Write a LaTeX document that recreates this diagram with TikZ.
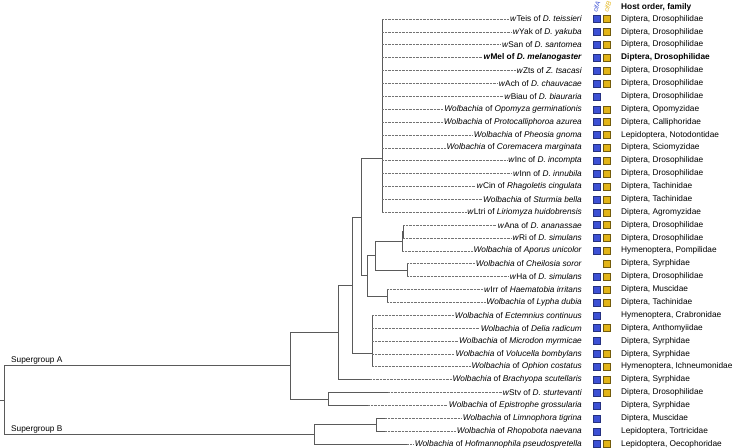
\documentclass[tikz,border=0pt]{standalone}
\usepackage{fontspec}
\setmainfont{Liberation Sans}
\usepackage{tikz}
\definecolor{cifblue}{RGB}{60,80,212}
\definecolor{cifgold}{RGB}{226,180,24}
\definecolor{branch}{RGB}{90,90,90}
\newcommand{\wb}{\textit{w}}
\newcommand{\Wol}{\textit{Wolbachia}}

\begin{document}
\begin{tikzpicture}[x=1pt,y=-12.88pt,
    every node/.style={font=\fontsize{8.3}{10}\selectfont},
    br/.style={draw=branch,line width=0.8pt},
    dot/.style={draw=branch!85,line width=0.6pt,dash pattern=on 0.6pt off 0.8pt},
    leaf/.style={anchor=east,inner sep=1pt},
    host/.style={anchor=west,inner sep=0.5pt},
    cif/.style={rotate=72,font=\itshape\fontsize{6.6}{7}\selectfont,inner sep=0pt},
    sqa/.style={fill=cifblue,draw=cifblue!60!black,line width=0.3pt,minimum size=7pt,inner sep=0pt},
    sqb/.style={fill=cifgold,draw=cifgold!50!black,line width=0.3pt,minimum size=7pt,inner sep=0pt}]
    \useasboundingbox (0,-0.475) rectangle (734,34.307);

    % header
    \node[cif,text=cifblue] (cifa) at (596.5,0.06) {cifA};
    \node[cif,text=cifgold] (cifb) at (607.5,0.06) {cifB};
    \node[host,font=\bfseries\fontsize{8.3}{10}\selectfont] (hd) at (620.5,0.07) {Host order, family};

    % leaves
    \node[leaf] (l1) at (583,1) {\wb Teis of \textit{D.~teissieri}};
    \node[leaf] (l2) at (583,2) {\wb Yak of \textit{D.~yakuba}};
    \node[leaf] (l3) at (583,3) {\wb San of \textit{D.~santomea}};
    \node[leaf] (l4) at (583,4) {\textbf{\wb Mel of \textit{D.~melanogaster}}};
    \node[leaf] (l5) at (583,5) {\wb Zts of \textit{Z.~tsacasi}};
    \node[leaf] (l6) at (583,6) {\wb Ach of \textit{D.~chauvacae}};
    \node[leaf] (l7) at (583,7) {\wb Biau of \textit{D.~biauraria}};
    \node[leaf] (l8) at (583,8) {\Wol\ of \textit{Opomyza germinationis}};
    \node[leaf] (l9) at (583,9) {\Wol\ of \textit{Protocalliphoroa azurea}};
    \node[leaf] (l10) at (583,10) {\Wol\ of \textit{Pheosia gnoma}};
    \node[leaf] (l11) at (583,11) {\Wol\ of \textit{Coremacera marginata}};
    \node[leaf] (l12) at (583,12) {\wb Inc of \textit{D.~incompta}};
    \node[leaf] (l13) at (583,13) {\wb Inn of \textit{D.~innubila}};
    \node[leaf] (l14) at (583,14) {\wb Cin of \textit{Rhagoletis cingulata}};
    \node[leaf] (l15) at (583,15) {\Wol\ of \textit{Sturmia bella}};
    \node[leaf] (l16) at (583,16) {\wb Ltri of \textit{Liriomyza huidobrensis}};
    \node[leaf] (l17) at (583,17) {\wb Ana of \textit{D.~ananassae}};
    \node[leaf] (l18) at (583,18) {\wb Ri of \textit{D.~simulans}};
    \node[leaf] (l19) at (583,19) {\Wol\ of \textit{Aporus unicolor}};
    \node[leaf] (l20) at (583,20) {\Wol\ of \textit{Cheilosia soror}};
    \node[leaf] (l21) at (583,21) {\wb Ha of \textit{D.~simulans}};
    \node[leaf] (l22) at (583,22) {\wb Irr of \textit{Haematobia irritans}};
    \node[leaf] (l23) at (583,23) {\Wol\ of \textit{Lypha dubia}};
    \node[leaf] (l24) at (583,24) {\Wol\ of \textit{Ectemnius continuus}};
    \node[leaf] (l25) at (583,25) {\Wol\ of \textit{Delia radicum}};
    \node[leaf] (l26) at (583,26) {\Wol\ of \textit{Microdon myrmicae}};
    \node[leaf] (l27) at (583,27) {\Wol\ of \textit{Volucella bombylans}};
    \node[leaf] (l28) at (583,28) {\Wol\ of \textit{Ophion costatus}};
    \node[leaf] (l29) at (583,29) {\Wol\ of \textit{Brachyopa scutellaris}};
    \node[leaf] (l30) at (583,30) {\wb Stv of \textit{D.~sturtevanti}};
    \node[leaf] (l31) at (583,31) {\Wol\ of \textit{Epistrophe grossularia}};
    \node[leaf] (l32) at (583,32) {\Wol\ of \textit{Limnophora tigrina}};
    \node[leaf] (l33) at (583,33) {\Wol\ of \textit{Rhopobota naevana}};
    \node[leaf] (l34) at (583,34) {\Wol\ of \textit{Hofmannophila pseudospretella}};

    % host order, family
    \node[host] (h1) at (620.5,1) {Diptera, Drosophilidae};
    \node[host] (h2) at (620.5,2) {Diptera, Drosophilidae};
    \node[host] (h3) at (620.5,3) {Diptera, Drosophilidae};
    \node[host,font=\bfseries\fontsize{8.3}{10}\selectfont] (h4) at (620.5,4) {Diptera, Drosophilidae};
    \node[host] (h5) at (620.5,5) {Diptera, Drosophilidae};
    \node[host] (h6) at (620.5,6) {Diptera, Drosophilidae};
    \node[host] (h7) at (620.5,7) {Diptera, Drosophilidae};
    \node[host] (h8) at (620.5,8) {Diptera, Opomyzidae};
    \node[host] (h9) at (620.5,9) {Diptera, Calliphoridae};
    \node[host] (h10) at (620.5,10) {Lepidoptera, Notodontidae};
    \node[host] (h11) at (620.5,11) {Diptera, Sciomyzidae};
    \node[host] (h12) at (620.5,12) {Diptera, Drosophilidae};
    \node[host] (h13) at (620.5,13) {Diptera, Drosophilidae};
    \node[host] (h14) at (620.5,14) {Diptera, Tachinidae};
    \node[host] (h15) at (620.5,15) {Diptera, Tachinidae};
    \node[host] (h16) at (620.5,16) {Diptera, Agromyzidae};
    \node[host] (h17) at (620.5,17) {Diptera, Drosophilidae};
    \node[host] (h18) at (620.5,18) {Diptera, Drosophilidae};
    \node[host] (h19) at (620.5,19) {Hymenoptera, Pompilidae};
    \node[host] (h20) at (620.5,20) {Diptera, Syrphidae};
    \node[host] (h21) at (620.5,21) {Diptera, Drosophilidae};
    \node[host] (h22) at (620.5,22) {Diptera, Muscidae};
    \node[host] (h23) at (620.5,23) {Diptera, Tachinidae};
    \node[host] (h24) at (620.5,24) {Hymenoptera, Crabronidae};
    \node[host] (h25) at (620.5,25) {Diptera, Anthomyiidae};
    \node[host] (h26) at (620.5,26) {Diptera, Syrphidae};
    \node[host] (h27) at (620.5,27) {Diptera, Syrphidae};
    \node[host] (h28) at (620.5,28) {Hymenoptera, Ichneumonidae};
    \node[host] (h29) at (620.5,29) {Diptera, Syrphidae};
    \node[host] (h30) at (620.5,30) {Diptera, Drosophilidae};
    \node[host] (h31) at (620.5,31) {Diptera, Syrphidae};
    \node[host] (h32) at (620.5,32) {Diptera, Muscidae};
    \node[host] (h33) at (620.5,33) {Lepidoptera, Tortricidae};
    \node[host] (h34) at (620.5,34) {Lepidoptera, Oecophoridae};

    % cif genes
    \foreach \k in {1,2,3,4,5,6,7,8,9,10,11,12,13,14,15,16,17,18,19,21,22,23,24,25,26,27,28,29,30,31,32,33,34}
        \node[sqa] (a\k) at (596.5,\k) {};
    \foreach \k in {1,2,3,4,5,6,8,9,10,11,12,13,14,15,16,17,18,19,20,21,22,23,25,27,28,29,30,34}
        \node[sqb] (b\k) at (606.5,\k) {};

    % branch tips
    \foreach \k in {1,...,16} \coordinate (t\k) at (382,\k);
    \coordinate (t17) at (403,17);
    \coordinate (t18) at (403,18);
    \coordinate (t19) at (402,19);
    \coordinate (t20) at (407,20);
    \coordinate (t21) at (407,21);
    \coordinate (t22) at (387,22);
    \coordinate (t23) at (387,23);
    \foreach \k in {24,...,28} \coordinate (t\k) at (372,\k);
    \coordinate (t29) at (370,29);
    \coordinate (t30) at (388,30);
    \coordinate (t31) at (368,31);
    \coordinate (t32) at (385,32);
    \coordinate (t33) at (385,33);
    \coordinate (t34) at (407,34);

    % internal nodes
    \coordinate (r0) at (0,30.59);
    \coordinate (root) at (4,30.59);
    \coordinate (supA) at (290,27.91);
    \coordinate (supB) at (314,33.25);
    \coordinate (n338) at (338,25.33);
    \coordinate (n328) at (328,30.5);
    \coordinate (n352) at (352,21.65);
    \coordinate (n361) at (361,16.37);
    \coordinate (nDros) at (382,11.79);
    \coordinate (n367) at (367,20.94);
    \coordinate (n375) at (375,19.375);
    \coordinate (n402) at (402,18.25);
    \coordinate (n403) at (403,17.5);
    \coordinate (n407) at (407,20.5);
    \coordinate (n387) at (387,22.5);
    \coordinate (n372) at (372,26.93);
    \coordinate (n376) at (376,32.5);

    % branches
    \draw[br] (r0) -- (root);
    \draw[br] (root) |- (supA);
    \draw[br] (root) |- (supB);
    \draw[br] (supA) |- (n338);
    \draw[br] (supA) |- (n328);
    \draw[br] (n338) |- (n352);
    \draw[br] (n338) |- (t29);
    \draw[br] (n352) |- (n361);
    \draw[br] (n352) |- (n372);
    \draw[br] (n361) |- (nDros);
    \draw[br] (n361) |- (n367);
    \foreach \k in {1,...,16} \draw[br] (nDros) |- (t\k);
    \draw[br] (n367) |- (n375);
    \draw[br] (n367) |- (n387);
    \draw[br] (n375) |- (n402);
    \draw[br] (n375) |- (n407);
    \draw[br] (n402) |- (n403);
    \draw[br] (n402) |- (t19);
    \draw[br] (n403) |- (t17);
    \draw[br] (n403) |- (t18);
    \draw[br] (n407) |- (t20);
    \draw[br] (n407) |- (t21);
    \draw[br] (n387) |- (t22);
    \draw[br] (n387) |- (t23);
    \foreach \k in {24,...,28} \draw[br] (n372) |- (t\k);
    \draw[br] (n328) |- (t30);
    \draw[br] (n328) |- (t31);
    \draw[br] (supB) |- (n376);
    \draw[br] (supB) |- (t34);
    \draw[br] (n376) |- (t32);
    \draw[br] (n376) |- (t33);

    % dotted leaders
    \foreach \k in {1,...,34} \draw[dot] (t\k) -- (l\k.west);

    \node[anchor=south west,inner sep=1pt] (sga) at (10,27.91) {Supergroup A};
    \node[anchor=south west,inner sep=1pt] (sgb) at (10,33.25) {Supergroup B};
\end{tikzpicture}
\end{document}
